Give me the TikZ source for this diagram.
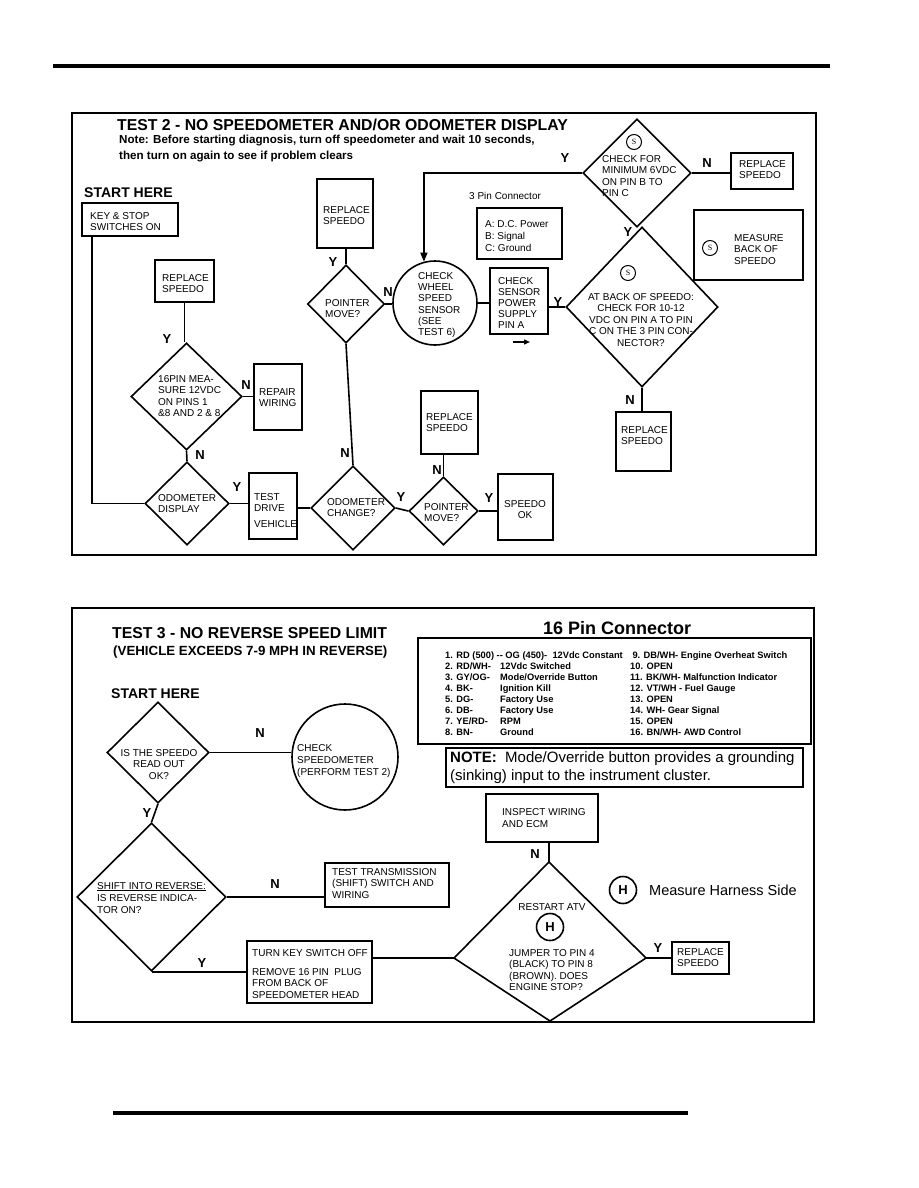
\documentclass[tikz,border=0pt]{standalone}
\usepackage{fontspec}
\setmainfont{Liberation Sans}
\newfontfamily\serifS{Liberation Serif}
\usetikzlibrary{shapes.geometric,arrows.meta,fit,calc}
\begin{document}
\begin{tikzpicture}[x=1pt,y=-1pt,
  box/.style={draw,line width=1.6pt,inner sep=0pt},
  dia/.style={draw,diamond,line width=1.6pt,inner sep=0pt},
  circ/.style={draw,circle,line width=1.6pt,inner sep=0pt},
  panel/.style={draw,line width=1.9pt,inner sep=0pt},
  conn/.style={line width=1.6pt},
  t/.style={inner sep=0pt,anchor=north west,align=left,font=\fontsize{10}{11.5}\selectfont},
  yn/.style={inner sep=0pt,font=\bfseries\fontsize{13}{13}\selectfont},
  hdr/.style={inner sep=0pt,anchor=base west,font=\bfseries\fontsize{14}{14}\selectfont},
  scirc/.style={draw,circle,line width=1pt,minimum size=15,inner sep=0pt,font=\serifS\fontsize{8}{8}\selectfont},
  hcirc/.style={draw,circle,line width=1.6pt,minimum size=27,inner sep=0pt,font=\bfseries\fontsize{13}{13}\selectfont},
  rule/.style={line width=4.2pt}]
\useasboundingbox (0,0) rectangle (918,1188);
\fill[white] (0,0) rectangle (918,1188);
% rules
\coordinate (r1a) at (53,66); \coordinate (r1b) at (830,66);
\draw[rule] (r1a) -- (r1b);
\coordinate (r2a) at (113,1113); \coordinate (r2b) at (688,1113);
\draw[rule] (r2a) -- (r2b);

%================ TEST 2 =================
\node[panel,fit={(72,113)(816,555)}] (p1) {};
\node[inner sep=0pt,anchor=base west,font=\bfseries\fontsize{15.8}{16}\selectfont] (t2title) at (117,131) {TEST 2 - NO SPEEDOMETER AND/OR ODOMETER DISPLAY};
\node[inner sep=0pt,anchor=base west,font=\bfseries\fontsize{11.6}{12}\selectfont] (t2n1) at (119,143) {Note: Before starting diagnosis, turn off speedometer and wait 10 seconds,};
\node[inner sep=0pt,anchor=base west,font=\bfseries\fontsize{11.6}{12}\selectfont] (t2n2) at (119,159) {then turn on again to see if problem clears};
\node[hdr] (st1) at (84,197) {START HERE};

\node[box,fit={(82,203)(178,236)}] (kb) {};
\node[t] (kbt) at (90,212) {KEY \& STOP\\SWITCHES ON};

\node[box,fit={(155,260)(214,302)}] (rs1) {};
\node[t] (rs1t) at (162,274) {REPLACE\\SPEEDO};

\node[dia,minimum width=111,minimum height=107] (d16) at (186.5,396.5) {};
\node[t] (d16t) at (158,375) {16PIN MEA-\\SURE 12VDC\\ON PINS 1\\\&8 AND 2 \& 8};

\node[box,fit={(254,364)(302,430)}] (rw) {};
\node[t] (rwt) at (259,388) {REPAIR\\WIRING};

\node[dia,minimum width=84,minimum height=83] (dod) at (187,503.5) {};
\node[t] (dodt) at (158,494) {ODOMETER\\DISPLAY};

\node[box,fit={(249,473)(297,539)}] (td) {};
\node[t] (tdt) at (254,493) {TEST\\DRIVE\\[4.5pt]VEHICLE};

\node[dia,minimum width=84,minimum height=84] (doc) at (353,508) {};
\node[t] (doct) at (327,498) {ODOMETER\\CHANGE?};

\node[dia,minimum width=77,minimum height=78] (dpm1) at (346,304) {};
\node[t] (dpm1t) at (325,299) {POINTER\\MOVE?};

\node[box,fit={(317,179)(373,248)}] (rs2) {};
\node[t] (rs2t) at (323,206) {REPLACE\\SPEEDO};

\node[circ,minimum size=84] (cw) at (435,303) {};
\node[t,font=\fontsize{10}{11.3}\selectfont] (cwt) at (418,272) {CHECK\\WHEEL\\SPEED\\SENSOR\\(SEE\\TEST 6)};

\node[box,fit={(490,268)(548,334)}] (cs) {};
\node[t,font=\fontsize{10}{11}\selectfont] (cst) at (498,277) {CHECK\\SENSOR\\POWER\\SUPPLY\\PIN A};
\coordinate (ar1) at (513,342); \coordinate (ar2) at (530,342);
\draw[line width=1.4pt,-{Triangle[length=6pt,width=5pt]}] (ar1) -- (ar2);

\node[dia,minimum width=152,minimum height=160] (d3) at (642,307) {};
\node[scirc] (s2) at (628,273) {S};
\node[t,align=center,anchor=north] (d3t) at (641,293) {AT BACK OF SPEEDO:\\CHECK FOR 10-12\\VDC ON PIN A TO PIN\\C ON THE 3 PIN CON-\\NECTOR?};

\node[dia,minimum width=108,minimum height=108] (d2) at (637,173) {};
\node[scirc] (s1) at (634,142) {S};
\node[t] (d2t) at (602,155) {CHECK FOR\\MINIMUM 6VDC\\ON PIN B TO\\PIN C};

\node[box,fit={(731,153)(793,189)}] (rs3) {};
\node[t] (rs3t) at (739,160) {REPLACE\\SPEEDO};

\node[box,fit={(694,210)(803,280)}] (mb) {};
\node[scirc] (s3) at (710,248) {S};
\node[t] (mbt) at (734,234) {MEASURE\\BACK OF\\SPEEDO};

\node[t] (pcl) at (469,192) {3 Pin Connector};
\node[box,line width=1.3pt,fit={(477,208)(562,259)}] (pc) {};
\node[t,font=\fontsize{10}{12}\selectfont] (pct) at (485,220) {A: D.C. Power\\B: Signal\\C: Ground};

\node[box,fit={(616,412)(671,471)}] (rs4) {};
\node[t] (rs4t) at (621,426) {REPLACE\\SPEEDO};

\node[box,fit={(421,391)(478,454)}] (rs5) {};
\node[t] (rs5t) at (426,413) {REPLACE\\SPEEDO};

\node[dia,minimum width=69,minimum height=68] (dpm2) at (443.5,511) {};
\node[t] (dpm2t) at (424,503) {POINTER\\MOVE?};

\node[box,fit={(498,474)(553,540)}] (sok) {};
\node[t,align=center,anchor=north] (sokt) at (525,500) {SPEEDO\\OK};

% Y / N labels (test 2)
\node[yn] (l1) at (167,339) {Y};
\node[yn] (l2) at (246,385) {N};
\node[yn] (l3) at (200,455) {N};
\node[yn] (l4) at (237,487) {Y};
\node[yn] (l5) at (345,453) {N};
\node[yn] (l6) at (333,262) {Y};
\node[yn] (l7) at (388,292) {N};
\node[yn] (l8) at (401,497) {Y};
\node[yn] (l9) at (437,470) {N};
\node[yn] (l10) at (489,498) {Y};
\node[yn] (l11) at (558,302) {Y};
\node[yn] (l12) at (630,400) {N};
\node[yn] (l13) at (565,158) {Y};
\node[yn] (l14) at (707,163) {N};
\node[yn] (l15) at (628,232) {Y};

% connectors (test 2)
\draw[conn] ($(kb.south west)+(11,0)$) |- (dod.west);
\draw[conn] (rs1.south) -- (rs1.south |- d16.north);
\draw[conn] (d16.east) -- (d16.east -| rw.west);
\draw[conn] (d16.south) -- (dod.north);
\draw[conn] (dod.east) -- (dod.east -| td.west);
\draw[conn] (doc.west -| td.east) -- (doc.west);
\draw[conn] (doc.north) -- (dpm1.south);
\draw[conn] (dpm1.north) -- (dpm1.north |- rs2.south);
\draw[conn] (dpm1.east) -- (dpm1.east -| cw.west);
\draw[conn] (cw.east) -- (cw.east -| cs.west);
\draw[conn] (d3.west -| cs.east) -- (d3.west);
\draw[conn] (d2.east) -- (d2.east -| rs3.west);
\draw[conn,-{Triangle[length=9pt,width=7pt]}] (d2.west) -- (d2.west -| cw.105) -- (cw.105);
\draw[conn] (d3.south) -- (d3.south |- rs4.north);
\draw[conn] (doc.east) -- (dpm2.west);
\draw[conn] (dpm2.north) -- (dpm2.north |- rs5.south);
\draw[conn] (dpm2.east) -- (dpm2.east -| sok.west);

%================ TEST 3 =================
\node[panel,fit={(72,608)(814,1022)}] (p2) {};
\node[inner sep=0pt,anchor=base west,font=\bfseries\fontsize{15.8}{16}\selectfont] (t3title) at (112,638) {TEST 3 - NO REVERSE SPEED LIMIT};
\node[inner sep=0pt,anchor=base west,font=\bfseries\fontsize{13.3}{13}\selectfont] (t3sub) at (113,655) {(VEHICLE EXCEEDS 7-9 MPH IN REVERSE)};
\node[hdr] (st2) at (111,698) {START HERE};

\node[dia,minimum width=102,minimum height=101] (ds) at (158,752.5) {};
\node[t,align=center,anchor=north] (dst) at (159,749) {IS THE SPEEDO\\READ OUT\\OK?};

\node[circ,minimum size=106] (csp) at (345,757) {};
\node[t,font=\fontsize{10}{12}\selectfont] (cspt) at (297,744) {CHECK\\SPEEDOMETER\\(PERFORM TEST 2)};

\node[dia,minimum width=149,minimum height=148] (dsh) at (151.5,897) {};
\node[t,font=\fontsize{10}{12}\selectfont] (dsht) at (97,882) {\underline{SHIFT INTO REVERSE:}\\IS REVERSE INDICA-\\TOR ON?};

\node[box,fit={(325,863)(449,907)}] (tt) {};
\node[t] (ttt) at (332,868) {TEST TRANSMISSION\\(SHIFT) SWITCH AND\\WIRING};

\node[box,fit={(247,941)(372,1003)}] (tk) {};
\node[t] (tkt1) at (252,949) {TURN KEY SWITCH OFF};
\node[t] (tkt2) at (252,968) {REMOVE 16 PIN\ \ PLUG\\FROM BACK OF\\SPEEDOMETER HEAD};

\coordinate (bdT) at (549,862);
\coordinate (bdL) at (454,958);
\coordinate (bdR) at (646,958);
\coordinate (bdB) at (550,1021);
\draw[line width=1.6pt,line join=miter] (bdL) -- (bdT) -- (bdR) -- (bdB) -- cycle;
\node[t,align=center,anchor=north] (bdt1) at (552,903) {RESTART ATV};
\node[hcirc] (h1) at (550,927) {H};
\node[t] (bdt2) at (509,949) {JUMPER TO PIN 4\\(BLACK) TO PIN 8\\(BROWN). DOES\\ENGINE STOP?};

\node[box,fit={(486,794)(598,842)}] (ie) {};
\node[t,font=\fontsize{10}{12.5}\selectfont] (iet) at (502,808) {INSPECT WIRING\\AND ECM};

\node[box,fit={(672,942)(729,974)}] (rs6) {};
\node[t] (rs6t) at (677,948) {REPLACE\\SPEEDO};

\node[hcirc] (h2) at (623,890) {H};
\node[inner sep=0pt,anchor=west,font=\fontsize{14.5}{15}\selectfont] (mhs) at (649,890) {Measure Harness Side};

% 16 pin connector
\node[inner sep=0pt,anchor=base west,font=\bfseries\fontsize{18}{18}\selectfont] (pinT) at (543,634) {16 Pin Connector};
\node[box,fit={(418,638)(811,744)}] (pinbox) {};
\node[inner sep=0pt,anchor=north west,font=\bfseries\fontsize{9.3}{11}\selectfont] (pinL) at (445,650.5) {%
\begin{tabular}{@{}p{55pt}@{}l@{}}
\multicolumn{2}{@{}l@{}}{1. RD (500) -{}- OG (450)-\ \ 12Vdc Constant}\\
2. RD/WH- & 12Vdc Switched\\
3. GY/OG- & Mode/Override Button\\
4. BK- & Ignition Kill\\
5. DG- & Factory Use\\
6. DB- & Factory Use\\
7. YE/RD- & RPM\\
8. BN- & Ground
\end{tabular}};
\node[inner sep=0pt,anchor=north west,font=\bfseries\fontsize{9.3}{11}\selectfont] (pinR) at (630,650.5) {%
\begin{tabular}{@{}l@{}}
\hspace{2.3pt}9. DB/WH- Engine Overheat Switch\\
10. OPEN\\
11. BK/WH- Malfunction Indicator\\
12. VT/WH - Fuel Gauge\\
13. OPEN\\
14. WH- Gear Signal\\
15. OPEN\\
16. BN/WH- AWD Control
\end{tabular}};

\node[box,fit={(446,748)(803,787)}] (nb) {};
\node[inner sep=0pt,anchor=base west,font=\fontsize{15}{18}\selectfont] (nbt1) at (450,762) {\textbf{NOTE:}\ \ Mode/Override button provides a grounding};
\node[inner sep=0pt,anchor=base west,font=\fontsize{15}{18}\selectfont] (nbt2) at (450,780) {(sinking) input to the instrument cluster.};

% Y / N labels (test 3)
\node[yn] (m1) at (260,733) {N};
\node[yn] (m2) at (147,813) {Y};
\node[yn] (m3) at (275,884) {N};
\node[yn] (m4) at (202,963) {Y};
\node[yn] (m5) at (535,854) {N};
\node[yn] (m6) at (658,948) {Y};

% connectors (test 3)
\draw[conn] (ds.east) -- (ds.east -| csp.west);
\draw[conn] (ds.south) -- (dsh.north);
\draw[conn] (dsh.east) -- (dsh.east -| tt.west);
\draw[conn] (dsh.south) -- (dsh.south -| tk.west);
\draw[conn] (bdL -| tk.east) -- (bdL);
\draw[conn] (bdT) -- (bdT |- ie.south);
\draw[conn] (bdR) -- (bdR -| rs6.west);
\end{tikzpicture}
\end{document}
